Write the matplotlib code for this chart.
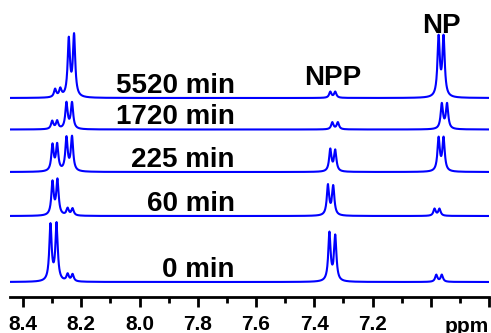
import numpy as np
import matplotlib
matplotlib.use('Agg')
import matplotlib.pyplot as plt
from matplotlib.ticker import FixedLocator, FixedFormatter, MultipleLocator

plt.rcParams['font.family'] = ['Liberation Sans', 'DejaVu Sans']

# spectra, bottom to top
labels = ['0 min', '60 min', '225 min', '1720 min', '5520 min']
offsets = [15, 81, 125, 167.5, 199]

# peak positions (ppm) and heights for each spectrum
peak_pos = [
    [8.306, 8.285, 8.247, 8.230, 7.348, 7.328, 6.981, 6.962],
    [8.299, 8.282, 8.247, 8.230, 7.353, 7.335, 6.987, 6.970],
    [8.299, 8.283, 8.251, 8.232, 7.345, 7.328, 6.973, 6.956],
    [8.300, 8.283, 8.251, 8.232, 7.338, 7.319, 6.962, 6.944],
    [8.290, 8.272, 8.243, 8.225, 7.345, 7.328, 6.973, 6.956],
]
peak_h = [
    [56, 57, 7, 7, 48, 45, 7, 7],
    [33, 35, 7, 7, 30, 29, 7, 7],
    [26, 26, 33, 34, 22, 21, 33, 33],
    [8, 8, 26, 26, 7, 7, 25, 25],
    [8, 8, 57, 61, 6, 6, 59, 59],
]

tick_vals = [8.4, 8.2, 8.0, 7.8, 7.6, 7.4, 7.2, 7.0, 6.8]
tick_text = ['8.4', '8.2', '8.0', '7.8', '7.6', '7.4', '7.2', '', '']

hw = 0.0048  # half width of each line
x = np.linspace(6.80, 8.445, 4000)

fig = plt.figure(figsize=(4.91, 3.33), dpi=100)
ax = fig.add_axes([10 / 491, 36 / 333, 479 / 491, 297 / 333])

for lab, off, pos, hts in zip(labels, offsets, peak_pos, peak_h):
    y = np.full_like(x, off, dtype=float)
    for p, h in zip(pos, hts):
        y += h / (1 + ((x - p) / hw) ** 2)
    ax.plot(x, y, color='#0000ff', lw=1.5)
    ax.text(7.673, off + 5, lab, ha='right', va='baseline',
            fontsize=20, fontweight='bold')

ax.text(7.335, 212, 'NPP', ha='center', va='baseline', fontsize=20, fontweight='bold')
ax.text(6.965, 264, 'NP', ha='center', va='baseline', fontsize=20, fontweight='bold')

ax.set_xlim(8.445, 6.80)
ax.set_ylim(0, 297)
for s in ['left', 'right', 'top']:
    ax.spines[s].set_visible(False)
ax.spines['bottom'].set_linewidth(2)
ax.set_yticks([])
ax.xaxis.set_major_locator(FixedLocator(tick_vals))
ax.xaxis.set_major_formatter(FixedFormatter(tick_text))
ax.xaxis.set_minor_locator(MultipleLocator(0.1))
ax.tick_params(axis='x', which='major', length=7, width=2, pad=6,
               labelsize=15)
ax.tick_params(axis='x', which='minor', length=4, width=2)
for t in ax.get_xticklabels():
    t.set_fontweight('bold')
ax.text(6.80, -0.118, 'ppm', transform=ax.get_xaxis_transform(), ha='right',
        va='baseline', fontsize=15, fontweight='bold', clip_on=False)

fig.savefig('out.png', dpi=100)
